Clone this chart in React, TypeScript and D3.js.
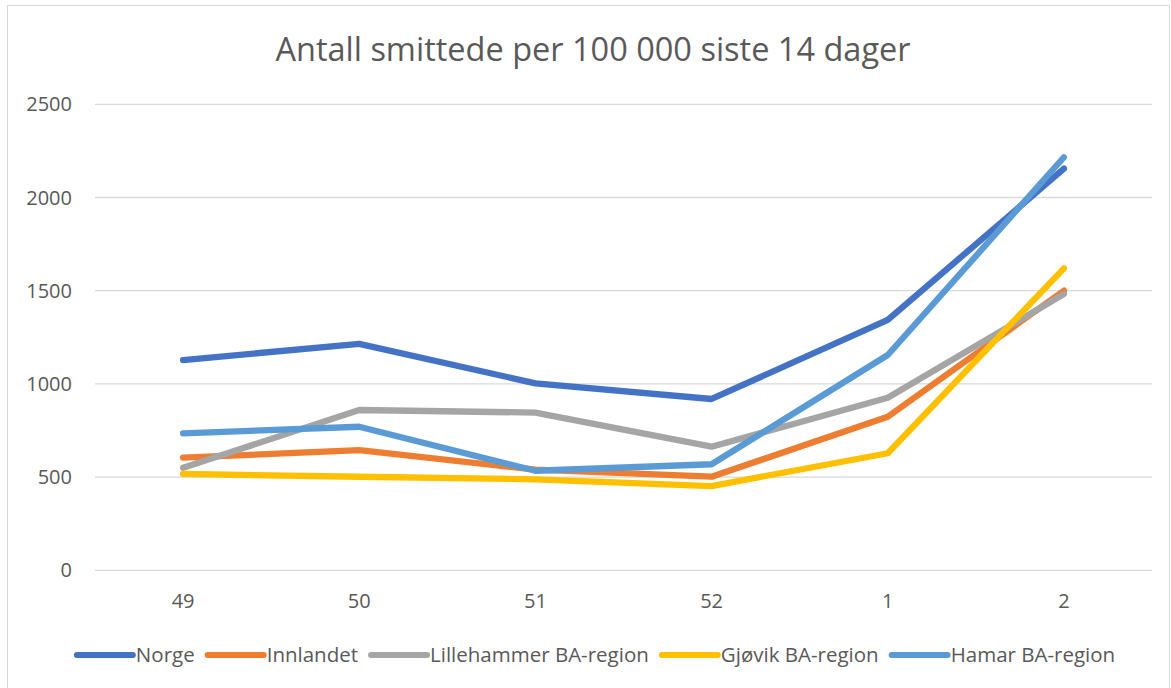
import React, { useEffect, useRef } from 'react';
import * as d3 from 'd3';

const weeks = ['49', '50', '51', '52', '1', '2'];
const yTicks = [0, 500, 1000, 1500, 2000, 2500];

const seriesNames = ['Norge', 'Innlandet', 'Lillehammer BA-region', 'Gjøvik BA-region', 'Hamar BA-region'];
const seriesColors = ['#4472C4', '#ED7D31', '#A5A5A5', '#FFC000', '#5B9BD5'];

const norge = [1128, 1215, 1003, 919, 1343, 2155];
const innlandet = [604, 645, 540, 502, 824, 1500];
const lillehammer = [550, 860, 846, 663, 926, 1482];
const gjovik = [517, 502, 488, 452, 628, 1620];
const hamar = [735, 770, 534, 569, 1155, 2216];

const seriesValues = [norge, innlandet, lillehammer, gjovik, hamar];

const W = 1171;
const H = 688;
const FONT = "'Open Sans', 'Noto Sans', sans-serif";
const TEXT = '#595959';

export default function App() {
  const ref = useRef<SVGSVGElement>(null);

  useEffect(() => {
    const svg = d3.select(ref.current);
    svg.selectAll('*').remove();

    // chart border
    svg.append('rect')
      .attr('x', 7.5).attr('y', 5.5)
      .attr('width', W - 9).attr('height', H)
      .attr('fill', '#fff')
      .attr('stroke', '#d9d9d9');

    const left = 95, right = 1152, top = 104.3, bottom = 570.3;

    const x = d3.scalePoint<string>()
      .domain(weeks)
      .range([left, right])
      .padding(0.5);

    const y = d3.scaleLinear().domain([0, 2500]).range([bottom, top]);

    // title
    svg.append('text')
      .attr('x', 593).attr('y', 61)
      .attr('text-anchor', 'middle')
      .attr('font-family', FONT)
      .attr('font-size', 32.5)
      .attr('fill', TEXT)
      .text('Antall smittede per 100 000 siste 14 dager');

    // gridlines
    svg.append('g')
      .selectAll('line')
      .data(yTicks)
      .enter().append('line')
      .attr('x1', left).attr('x2', right)
      .attr('y1', d => y(d)).attr('y2', d => y(d))
      .attr('stroke', '#d9d9d9')
      .attr('stroke-width', 1.3);

    // y labels
    svg.append('g')
      .selectAll('text')
      .data(yTicks)
      .enter().append('text')
      .attr('x', 72)
      .attr('y', d => y(d) + 7)
      .attr('text-anchor', 'end')
      .attr('font-family', FONT)
      .attr('font-size', 20)
      .attr('fill', TEXT)
      .text(d => String(d));

    // x labels
    svg.append('g')
      .selectAll('text')
      .data(weeks)
      .enter().append('text')
      .attr('x', d => x(d) as number)
      .attr('y', 608)
      .attr('text-anchor', 'middle')
      .attr('font-family', FONT)
      .attr('font-size', 20)
      .attr('fill', TEXT)
      .text(d => d);

    // lines
    const line = d3.line<number>()
      .x((d, i) => x(weeks[i]) as number)
      .y(d => y(d));

    svg.append('g')
      .selectAll('path')
      .data(seriesValues)
      .enter().append('path')
      .attr('d', d => line(d))
      .attr('fill', 'none')
      .attr('stroke', (d, i) => seriesColors[i])
      .attr('stroke-width', 6.3)
      .attr('stroke-linecap', 'round')
      .attr('stroke-linejoin', 'round');

    // legend, measured then centred
    const legend = svg.append('g');
    const items = legend.selectAll('g')
      .data(seriesNames)
      .enter().append('g');

    items.append('line')
      .attr('x1', 0).attr('x2', 56)
      .attr('y1', 0).attr('y2', 0)
      .attr('stroke', (d, i) => seriesColors[i])
      .attr('stroke-width', 6)
      .attr('stroke-linecap', 'round');

    items.append('text')
      .attr('x', 59)
      .attr('y', 7)
      .attr('font-family', FONT)
      .attr('font-size', 20.5)
      .attr('fill', TEXT)
      .text(d => d);

    const widths: number[] = [];
    items.select('text').each(function () {
      widths.push(59 + (this as SVGTextElement).getComputedTextLength());
    });
    const gap = 13;
    const total = d3.sum(widths) + gap * (widths.length - 1);
    let pos = 596 - total / 2;
    items.attr('transform', (d, i) => {
      const t = 'translate(' + pos + ',655)';
      pos += widths[i] + gap;
      return t;
    });
  }, []);

  return (
    <svg ref={ref} width={W} height={H} style={{ display: 'block', position: 'absolute', left: 0, top: 0 }} />
  );
}
